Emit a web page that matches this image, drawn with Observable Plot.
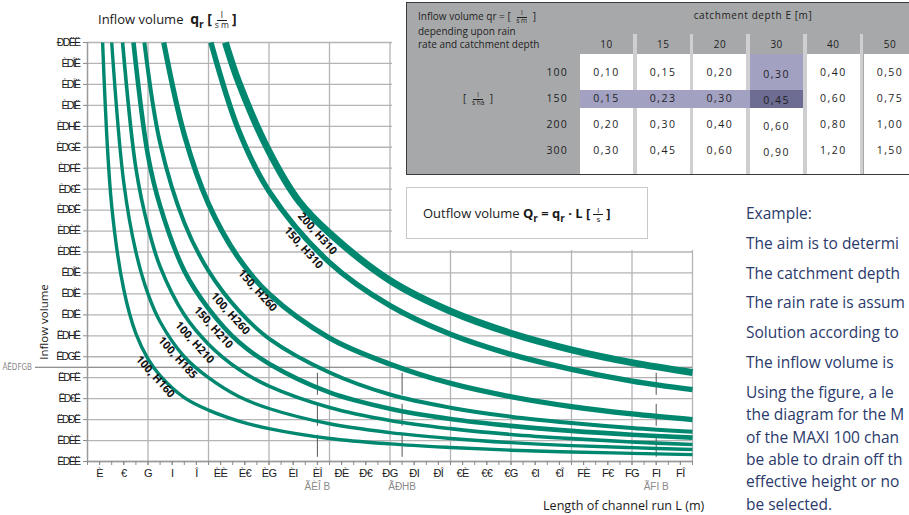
<!DOCTYPE html>
<html><head><meta charset="utf-8">
<script src="https://cdn.jsdelivr.net/npm/d3@7"></script>
<script src="https://cdn.jsdelivr.net/npm/@observablehq/plot@0.6"></script>
<style>
body{margin:0;background:#fff;}
#wrap{position:relative;width:909px;height:515px;overflow:hidden;font-family:"Open Sans","Noto Sans",sans-serif;color:#1a1a1a;}
#chart{position:absolute;left:0;top:0;}
.abs{position:absolute;white-space:nowrap;}
.frac{display:inline-flex;flex-direction:column;align-items:center;vertical-align:middle;line-height:1.05;margin:0 3px;}
.frac .n{padding:0 4px;border-bottom:1px solid currentColor;}
#chart svg g[aria-label="y-axis tick label"] text{letter-spacing:-1.6px;}
#chart svg g[aria-label="x-axis tick label"] text{letter-spacing:-0.6px;}
.ex{color:#2a3a6b;font-size:15.5px;}
</style></head>
<body><div id="wrap"><div id="chart"></div></div>
<script>
// ---------- data ----------
const curveNames = ["100, H160","100, H185","100, H210","150, H210","100, H260","150, H260","150, H310","200, H310"];
const L_A = [1.25, 2, 3, 4, 5, 6, 8, 10, 12.5, 15, 20, 25, 30, 35, 40, 45, 50];
const q_A = [2.0, 1.22, 0.82, 0.61, 0.49, 0.41, 0.305, 0.245, 0.193, 0.157, 0.11, 0.084, 0.067, 0.054, 0.0455, 0.039, 0.033];
const L_B = [2.0, 3, 4, 5, 6, 8, 10, 12.5, 15, 20, 25, 30, 35, 40, 45, 50];
const q_B = [2.0, 1.33, 1.0, 0.8, 0.667, 0.5, 0.4, 0.31, 0.253, 0.18, 0.138, 0.11, 0.09, 0.076, 0.066, 0.057];
const L_C = [2.9, 4, 5, 6, 8, 10, 12.5, 15, 20, 25, 30, 35, 40, 45, 50];
const q_C = [2.0, 1.4, 1.12, 0.93, 0.7, 0.56, 0.44, 0.36, 0.258, 0.196, 0.157, 0.129, 0.109, 0.093, 0.081];
const L_D = [3.8, 5, 6, 8, 10, 12.5, 15, 20, 25, 30, 35, 40, 45, 50];
const q_D = [2.0, 1.46, 1.22, 0.91, 0.73, 0.57, 0.467, 0.33, 0.252, 0.203, 0.17, 0.146, 0.128, 0.114];
const L_E = [4.7, 6, 8, 10, 12.5, 15, 20, 25, 30, 35, 40, 45, 50];
const q_E = [2.0, 1.52, 1.14, 0.91, 0.72, 0.587, 0.425, 0.32, 0.257, 0.214, 0.184, 0.16, 0.142];
const L_F = [6.3, 8, 10, 12.5, 15, 20, 25, 30, 35, 40, 45, 50];
const q_F = [2.0, 1.56, 1.23, 0.97, 0.8, 0.59, 0.465, 0.373, 0.309, 0.262, 0.227, 0.2];
const L_G = [10.2, 12.5, 15, 20, 25, 30, 35, 40, 45, 50];
const q_G = [2.0, 1.58, 1.29, 0.95, 0.744, 0.607, 0.511, 0.44, 0.384, 0.343];
const L_H = [11.4, 12.5, 15, 17.5, 20, 25, 30, 35, 40, 45, 50];
const q_H = [2.0, 1.81, 1.48, 1.24, 1.09, 0.864, 0.717, 0.612, 0.533, 0.472, 0.425];

// curve label anchor points (L, q)
const labelL = [5.6, 7.45, 8.85, 10.4, 11.8, 14.05, 17.85, 19.0];
const labelQ = [0.405, 0.495, 0.568, 0.64, 0.706, 0.816, 1.02, 1.088];

// tick values and (garbled, as printed) tick labels
const xTickValues = [1,3,5,7,9,11,13,15,17,19,21,23,25,27,29,31,33,35,37,39,41,43,45,47,49];
const xTickLabels = ["È","€","G","I","Î","ÈÈ","È€","ÈG","ÈI","ÈÎ","ÐÈ","Ð€","ÐG","ÐI","ÐÎ","€È","€€","€G","€I","€Î","FÈ","F€","FG","FI","FÎ"];
const xGridValues = [0,5,10,15,20,25,30,35,40,45,50];
const yTickValues = [0,0.1,0.2,0.3,0.4,0.5,0.6,0.7,0.8,0.9,1.0,1.1,1.2,1.3,1.4,1.5,1.6,1.7,1.8,1.9,2.0];
const yTickLabels = ["ËDËË","ËDÈË","ËDÐË","ËD€Ë","ËDFË","ËDGË","ËDHË","ËDIË","ËDÍË","ËDÎË","ÈDËË","ÈDÈË","ÈDÐË","ÈD€Ë","ÈDFË","ÈDGË","ÈDHË","ÈDIË","ÈDÍË","ÈDÎË","ÐDËË"];

// example reading
const exampleQ = 0.45;
const exampleQLabel = "ÃËDFGB";
const exampleL = [19, 26, 47];
const exampleLLabels = ["ÃÈÎ B","ÃÐHB","ÃFI B"];

// table
const depths = [10, 15, 20, 30, 40, 50];
const rainRates = [100, 150, 200, 300];
const qrValues = [
  [0.10, 0.15, 0.20, 0.30, 0.40, 0.50],
  [0.15, 0.23, 0.30, 0.45, 0.60, 0.75],
  [0.20, 0.30, 0.40, 0.60, 0.80, 1.00],
  [0.30, 0.45, 0.60, 0.90, 1.20, 1.50]
];
// side text, as far as it is visible in the figure
const exampleLines = ["Example:","The aim is to determi","The catchment depth","The rain rate is assum","Solution according to","The inflow volume is"];
const exampleParagraph = ["Using the figure, a le","the diagram for the M","of the MAXI 100 chan","be able to drain off th","effective height or no","be selected."];

// ---------- chart ----------
const Ls = [L_A,L_B,L_C,L_D,L_E,L_F,L_G,L_H];
const qs = [q_A,q_B,q_C,q_D,q_E,q_F,q_G,q_H];
const widths = [3.4,3.4,3.6,4.6,4,5.2,5.4,7];
const teal = "#00876f";
const curveMarks = curveNames.map((name,k) => Plot.line(Ls[k].map((L,i)=>({L, q: qs[k][i], name})),
  {x:"L", y:"q", stroke: teal, strokeWidth: widths[k], curve:"catmull-rom", strokeLinecap:"butt"}));
const labels = curveNames.map((name,i)=>({name, L: labelL[i], q: labelQ[i]}));
const xLab = new Map(xTickValues.map((v,i)=>[v, xTickLabels[i]]));
const yLab = new Map(yTickValues.map((v,i)=>[v, yTickLabels[i]]));

const chart = Plot.plot({
  width: 909, height: 515,
  marginLeft: 87, marginRight: 217, marginTop: 42, marginBottom: 54,
  x: {domain: [0, 50]}, y: {domain: [0, 2]},
  style: {fontFamily: "'Liberation Sans', Arial, sans-serif", fontSize: "11px", color: "#1a1a1a", background: "transparent", overflow: "visible"},
  marks: [
    Plot.gridX(xGridValues, {stroke: "#b4b4b4", strokeOpacity: 1, strokeWidth: 1.3}),
    Plot.gridY(yTickValues, {stroke: "#b4b4b4", strokeOpacity: 1, strokeWidth: 1.3}),
    Plot.ruleY([exampleQ], {x1: -4.3, x2: 50, stroke: "#6e6e6e", strokeWidth: 1.2}),
    Plot.text([exampleQLabel], {x: -4.5, y: exampleQ, text: d=>d, textAnchor: "end", fill: "#8a8a8a", fontSize: 8, dx: -1, fontFamily: "'Liberation Sans Narrow','DejaVu Sans Condensed',sans-serif"}),
    Plot.ruleX(exampleL, {y1: 0.02, y2: exampleQ, stroke: "#555", strokeWidth: 1, strokeDasharray: "22,9"}),
    Plot.text(exampleL, {x: d=>d, y: 0, text: (d,i)=>exampleLLabels[i], dy: 25, fill: "#8a8a8a", fontSize: 10}),
    Plot.ruleX([0], {stroke: "#9a9a9a", strokeWidth: 1.3}),
    Plot.ruleY([0], {stroke: "#9a9a9a", strokeWidth: 1.3}),
    Plot.axisX(d3.range(0, 51, 1), {tickSize: 4, tickFormat: () => "", label: null, stroke: "#8a8a8a"}),
    Plot.axisX(xTickValues, {tickSize: 4, tickPadding: 4, tickFormat: d => xLab.get(d), label: null, stroke: "#8a8a8a", fill: "#1a1a1a", fontSize: 11}),
    Plot.axisY(yTickValues, {tickSize: 4, tickPadding: 4, tickFormat: d => yLab.get(d), label: null, stroke: "#8a8a8a", fill: "#1a1a1a", fontSize: 10.5}),
    ...curveMarks,
    Plot.text(labels, {x: "L", y: "q", text: "name", rotate: 48, fontWeight: "bold", fontSize: 11, fill: "#111", fontFamily: "'Open Sans', sans-serif"})
  ]
});
document.getElementById("chart").appendChild(chart);

// ---------- HTML overlays ----------
const wrap = document.getElementById("wrap");
function add(html, css){ const d=document.createElement("div"); d.className="abs"; d.innerHTML=html; Object.assign(d.style, css); wrap.appendChild(d); return d; }

// white cover over the upper-right grid
add("", {left:"392px", top:"0px", width:"517px", height:"250px", background:"#fff"});

// titles
add('Inflow volume&nbsp; <b style="font-size:14px">q<sub style="font-size:10.5px">r</sub></b>&nbsp;<b style="font-size:14px">[</b><span class="frac" style="font-size:8.5px"><span class="n">l</span><span>s m</span></span><b style="font-size:14px">]</b>',
  {left:"98px", top:"9px", fontSize:"13px"});
add("Inflow volume", {left:"43px", top:"322px", fontSize:"11.5px", transform:"translate(-50%,-50%) rotate(-90deg)"});
add("Length of channel run L (m)", {left:"543px", top:"497px", fontSize:"12.6px"});

// table
const tb = add("", {left:"406px", top:"2px", width:"510px", height:"171px", background:"#a7a8aa", borderLeft:"1px solid #3a3a3a", borderTop:"1px solid #3a3a3a", borderBottom:"1.5px solid #3a3a3a"});
function tadd(html, css){ const d=document.createElement("div"); d.className="abs"; d.innerHTML=html; Object.assign(d.style, {fontSize:"10px", color:"#1e1e1e"}, css); tb.appendChild(d); return d; }
tadd('Inflow volume qr = [ <span class="frac" style="font-size:6.5px"><span class="n">l</span><span>s m</span></span> ]<br>depending upon rain<br>rate and catchment depth', {left:"11px", top:"7px", lineHeight:"13.3px"});
tadd('[ <span class="frac" style="font-size:6.5px"><span class="n">l</span><span>s ha</span></span> ]', {left:"56px", top:"88px"});
tadd("catchment depth E [m]", {left:"346px", top:"5px", letterSpacing:"0.6px", transform:"translateX(-50%)"});
const colLeft = i => 173 + i*56.7;
const rowTop = [51, 87, 105, 135];
const rowH = [36, 18, 30, 37];
const rowCenter = [70, 96, 122, 148];
// white cells
depths.forEach((d,i)=>{
  tadd("", {left: colLeft(i)+"px", top:"51px", width:"53px", height:"120px", background:"#fff"});
  tadd("", {left: (colLeft(i)+53)+"px", top:"31px", width:"3.7px", height:"140px", background:"#cfcfd1"});
  tadd(String(d), {left: (colLeft(i)+26.5)+"px", top:"34px", transform:"translateX(-50%)", letterSpacing:"0.5px"});
});
// highlights
tadd("", {left: colLeft(0)+"px", top: rowTop[1]+"px", width: (colLeft(3)-colLeft(0))+"px", height: rowH[1]+"px", background:"#a2a1c2"});
tadd("", {left: colLeft(3)+"px", top: rowTop[0]+"px", width:"53px", height: rowH[0]+"px", background:"#a2a1c2"});
tadd("", {left: colLeft(3)+"px", top: rowTop[1]+"px", width:"53px", height: rowH[1]+"px", background:"#6d6c93"});
rainRates.forEach((r,j)=>{
  tadd(String(r), {left:"161px", top:(rowCenter[j]-8)+"px", transform:"translateX(-100%)", letterSpacing:"1.2px", fontSize:"10.5px"});
  qrValues[j].forEach((v,i)=>{
    tadd(v.toFixed(2).replace(".", ","), {left:(colLeft(i)+26.5)+"px", top:(rowCenter[j]-8 + (i===3 ? 2 : 0))+"px", transform:"translateX(-50%)", letterSpacing:"1.5px", fontSize:"10.5px"});
  });
});

// outflow box
add('Outflow volume <b>Q<sub style="font-size:10px">r</sub> = q<sub style="font-size:10px">r</sub> · L</b> <b>[</b><span class="frac" style="font-size:8px"><span class="n">l</span><span>s</span></span><b>]</b>',
  {left:"406px", top:"187px", width:"224px", height:"50px", border:"1.5px solid #c9c9c9", paddingLeft:"16px", fontSize:"13px", lineHeight:"50px", boxSizing:"content-box"});

// example text
exampleLines.forEach((t,i)=> add(t, {left:"746px", top:(202 + i*29.8)+"px"}).classList.add("ex"));
exampleParagraph.forEach((t,i)=> add(t, {left:"746px", top:(382 + i*22.3)+"px", lineHeight:"20px"}).classList.add("ex"));
</script></body></html>
